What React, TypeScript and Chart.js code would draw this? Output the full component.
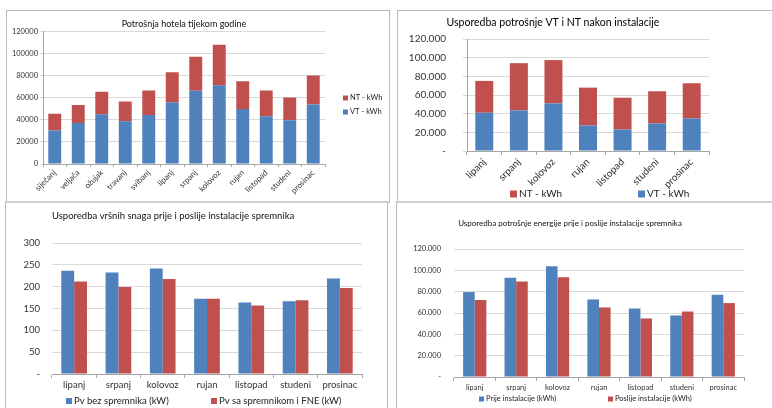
import React, { useEffect, useRef } from 'react';
import { Chart, registerables } from 'chart.js';

Chart.register(...registerables);
Chart.defaults.font.family = 'Lato';
Chart.defaults.color = '#333';

const BLUE = '#4F81BD';
const RED = '#C0504D';

// Panel 1 – Potrošnja hotela tijekom godine
const monthsAll = ['siječanj', 'veljača', 'ožujak', 'travanj', 'svibanj', 'lipanj', 'srpanj', 'kolovoz', 'rujan', 'listopad', 'studeni', 'prosinac'];
const hotelVT = [30300, 37300, 45200, 38800, 44500, 56000, 66400, 71500, 50000, 43300, 39700, 53900];
const hotelNT = [15200, 16300, 20300, 17900, 22200, 27300, 30900, 36700, 25200, 23400, 20600, 26400];
const hotelTicks = ['0', '20000', '40000', '60000', '80000', '100000', '120000'];

// Panel 2 – Usporedba potrošnje VT i NT nakon instalacije
const monthsSummer = ['lipanj', 'srpanj', 'kolovoz', 'rujan', 'listopad', 'studeni', 'prosinac'];
const afterVT = [41000, 43500, 51000, 27300, 23000, 29500, 34900];
const afterNT = [34100, 50600, 46400, 40600, 34100, 34500, 37700];
const kwhTicks = ['-', '20.000', '40.000', '60.000', '80.000', '100.000', '120.000'];

// Panel 3 – Usporedba vršnih snaga
const peakBefore = [236.5, 232.7, 241.8, 172.2, 163.8, 166.8, 218.9];
const peakAfter = [212, 199, 217.3, 172.2, 156.9, 169.1, 196.7];
const peakTicks = ['-', '50', '100', '150', '200', '250', '300'];

// Panel 4 – Usporedba potrošnje energije
const energyBefore = [79600, 93100, 103800, 72700, 64300, 57700, 77100];
const energyAfter = [72100, 89600, 93400, 65200, 54900, 61400, 69300];

type LegendItem = { ds: number; x: number; y: number };

function makeLegend(items: LegendItem[], size: number, box: number, gap: number) {
  return {
    id: 'boxLegend',
    afterDraw(chart: any) {
      const ctx = chart.ctx;
      ctx.save();
      ctx.font = `${size}px Lato`;
      ctx.textBaseline = 'middle';
      ctx.textAlign = 'left';
      for (const it of items) {
        const ds = chart.data.datasets[it.ds];
        ctx.fillStyle = ds.backgroundColor;
        ctx.fillRect(it.x, it.y - box / 2, box, box);
        ctx.fillStyle = '#222';
        ctx.fillText(ds.label, it.x + box + gap, it.y);
      }
      ctx.restore();
    },
  };
}

function ChartPanel({ left, top, width, height, make }: any) {
  const ref = useRef<HTMLCanvasElement | null>(null);
  useEffect(() => {
    if (!ref.current) return;
    const chart = new Chart(ref.current, make());
    return () => chart.destroy();
  }, []);
  return (
    <canvas
      ref={ref}
      width={width}
      height={height}
      style={{ position: 'absolute', left, top, width, height }}
    />
  );
}

const axisColor = '#a6a6a6';
const gridColor = '#d9d9d9';

function cfgHotel() {
  return {
    type: 'bar',
    data: {
      labels: monthsAll,
      datasets: [
        { label: 'VT - kWh', data: hotelVT, backgroundColor: BLUE },
        { label: 'NT - kWh', data: hotelNT, backgroundColor: RED },
      ],
    },
    options: {
      animation: false,
      responsive: false,
      layout: { padding: { left: 0, right: 383 - 319, top: 0, bottom: 0 } },
      datasets: { bar: { categoryPercentage: 1, barPercentage: 0.55 } },
      plugins: {
        legend: { display: false },
        tooltip: { enabled: false },
        title: {
          display: true,
          text: 'Potrošnja hotela tijekom godine',
          font: { size: 9, weight: 'normal' },
          color: '#111',
          padding: { top: 9, bottom: 2 },
          fullSize: false,
        },
      },
      scales: {
        x: {
          stacked: true,
          grid: { display: true, drawOnChartArea: false, offset: true, tickLength: 3, color: axisColor },
          border: { color: axisColor },
          ticks: { minRotation: 45, maxRotation: 45, autoSkip: false, font: { size: 8 }, padding: 1 },
          afterFit: (s: any) => { s.height = 38; },
        },
        y: {
          stacked: true,
          min: 0,
          max: 120000,
          ticks: { stepSize: 20000, callback: (_v: any, i: number) => hotelTicks[i], font: { size: 7.5 }, padding: 2 },
          grid: { color: gridColor, tickLength: 3 },
          border: { color: axisColor },
          afterFit: (s: any) => { s.width = 37; },
        },
      },
    },
    plugins: [makeLegend([{ ds: 1, x: 337, y: 88 }, { ds: 0, x: 337, y: 102 }], 7.5, 5, 2)],
  };
}

function cfgAfter() {
  return {
    type: 'bar',
    data: {
      labels: monthsSummer,
      datasets: [
        { label: 'VT - kWh', data: afterVT, backgroundColor: BLUE },
        { label: 'NT - kWh', data: afterNT, backgroundColor: RED },
      ],
    },
    options: {
      animation: false,
      responsive: false,
      layout: { padding: { left: 0, right: 368 - 312, top: 0, bottom: 0 } },
      datasets: { bar: { categoryPercentage: 1, barPercentage: 0.52 } },
      plugins: {
        legend: { display: false },
        tooltip: { enabled: false },
        title: {
          display: true,
          text: 'Usporedba potrošnje VT i NT nakon instalacije',
          font: { size: 10.5, weight: 'normal' },
          color: '#000',
          padding: { top: 6.7, bottom: 9.7 },
          fullSize: true,
        },
      },
      scales: {
        x: {
          stacked: true,
          grid: { display: true, drawOnChartArea: false, offset: true, tickLength: 4, color: axisColor },
          border: { color: axisColor },
          ticks: { minRotation: 45, maxRotation: 45, autoSkip: false, font: { size: 10 }, padding: 1 },
          afterFit: (s: any) => { s.height = 51; },
        },
        y: {
          stacked: true,
          min: 0,
          max: 120000,
          ticks: { stepSize: 20000, callback: (_v: any, i: number) => kwhTicks[i], font: { size: 10 }, padding: 17 },
          grid: { color: gridColor, tickLength: 4 },
          border: { color: axisColor },
          afterFit: (s: any) => { s.width = 70; },
        },
      },
    },
    plugins: [makeLegend([{ ds: 1, x: 113, y: 184 }, { ds: 0, x: 241, y: 184 }], 10, 7, 2)],
  };
}

function cfgPeak() {
  return {
    type: 'bar',
    data: {
      labels: monthsSummer,
      datasets: [
        { label: 'Pv bez spremnika (kW)', data: peakBefore, backgroundColor: BLUE },
        { label: 'Pv sa spremnikom i FNE (kW)', data: peakAfter, backgroundColor: RED },
      ],
    },
    options: {
      animation: false,
      responsive: false,
      layout: { padding: { left: 0, right: 382 - 357, top: 0, bottom: 0 } },
      datasets: { bar: { categoryPercentage: 0.58, barPercentage: 1 } },
      plugins: {
        legend: { display: false },
        tooltip: { enabled: false },
        title: {
          display: true,
          text: 'Usporedba vršnih snaga prije i poslije instalacije spremnika',
          font: { size: 9.5, weight: 'normal' },
          color: '#111',
          align: 'start',
          padding: { top: 8.3, bottom: 21.3 },
          fullSize: false,
        },
      },
      scales: {
        x: {
          grid: { display: true, drawOnChartArea: false, offset: true, tickLength: 4, color: axisColor },
          border: { color: axisColor },
          ticks: { maxRotation: 0, autoSkip: false, font: { size: 9.5 }, padding: 1 },
          afterFit: (s: any) => { s.height = 34; },
        },
        y: {
          min: 0,
          max: 300,
          ticks: { stepSize: 50, callback: (_v: any, i: number) => peakTicks[i], font: { size: 9.5 }, padding: 12 },
          grid: { color: gridColor, drawTicks: false },
          border: { display: false },
          afterFit: (s: any) => { s.width = 47; },
        },
      },
    },
    plugins: [makeLegend([{ ds: 0, x: 61, y: 199 }, { ds: 1, x: 206, y: 199 }], 9.5, 6, 2)],
  };
}

function cfgEnergy() {
  return {
    type: 'bar',
    data: {
      labels: monthsSummer,
      datasets: [
        { label: 'Prije instalacije (kWh)', data: energyBefore, backgroundColor: BLUE },
        { label: 'Poslije instalacije (kWh)', data: energyAfter, backgroundColor: RED },
      ],
    },
    options: {
      animation: false,
      responsive: false,
      layout: { padding: { left: 0, right: 432 - 348, top: 0, bottom: 0 } },
      datasets: { bar: { categoryPercentage: 0.56, barPercentage: 1 } },
      plugins: {
        legend: { display: false },
        tooltip: { enabled: false },
        title: {
          display: true,
          text: 'Usporedba potrošnje energije prije i poslije instalacije spremnika',
          font: { size: 8, weight: 'normal' },
          color: '#111',
          padding: { top: 16.2, bottom: 21.2 },
          fullSize: true,
        },
      },
      scales: {
        x: {
          grid: { display: true, drawOnChartArea: false, offset: true, tickLength: 4, color: axisColor },
          border: { color: axisColor },
          ticks: { maxRotation: 0, autoSkip: false, font: { size: 7.5 }, padding: 2 },
          afterFit: (s: any) => { s.height = 31; },
        },
        y: {
          min: 0,
          max: 120000,
          ticks: { stepSize: 20000, callback: (_v: any, i: number) => kwhTicks[i], font: { size: 7.5 }, padding: 13 },
          grid: { color: gridColor, drawTicks: false },
          border: { display: false },
          afterFit: (s: any) => { s.width = 58; },
        },
      },
    },
    plugins: [makeLegend([{ ds: 0, x: 83, y: 197 }, { ds: 1, x: 212, y: 197 }], 7.5, 5, 2)],
  };
}

const borderStyle = (left: number, top: number, width: number, height: number): React.CSSProperties => ({
  position: 'absolute',
  left,
  top,
  width,
  height,
  boxSizing: 'border-box',
  border: '1px solid #b8b8b8',
  pointerEvents: 'none',
});

export default function App() {
  return (
    <div
      style={{
        position: 'fixed',
        left: 0,
        top: 0,
        width: 772,
        height: 408,
        overflow: 'hidden',
        background: '#fff',
      }}
    >
      <div style={borderStyle(6, 10, 384, 193)} />
      <div style={borderStyle(397, 10, 420, 193)} />
      <div style={{ ...borderStyle(5, 201, 383, 240), borderTop: '2px solid #cfcfcf' }} />
      <div style={{ ...borderStyle(396, 201, 420, 240), borderTop: '2px solid #cfcfcf' }} />
      <ChartPanel left={6} top={10} width={383} height={192} make={cfgHotel} />
      <ChartPanel left={397} top={10} width={368} height={192} make={cfgAfter} />
      <ChartPanel left={5} top={202} width={382} height={206} make={cfgPeak} />
      <ChartPanel left={396} top={202} width={432} height={206} make={cfgEnergy} />
    </div>
  );
}
